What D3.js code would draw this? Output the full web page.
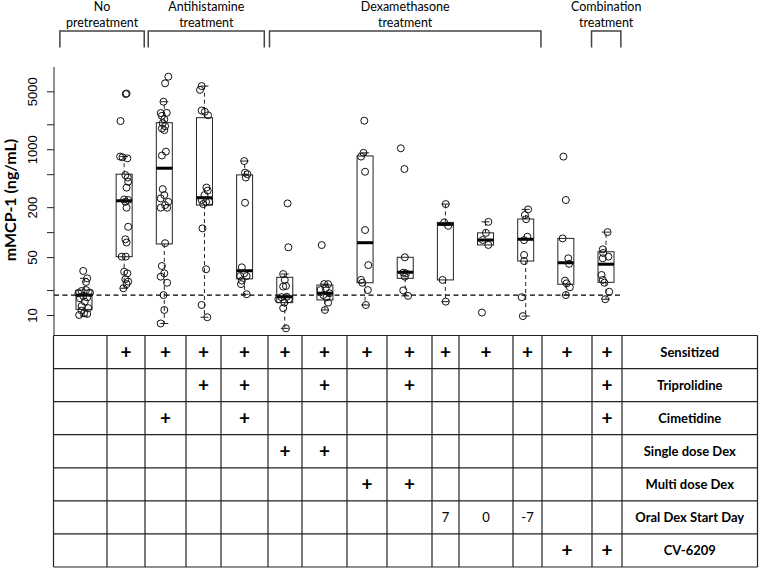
<!DOCTYPE html>
<html>
<head>
<meta charset="utf-8">
<script src="https://cdn.jsdelivr.net/npm/d3@7"></script>
<style>
  body { margin: 0; background: #fff; }
  svg text { fill: #000; }
</style>
</head>
<body>
<svg id="chart" width="759" height="570"></svg>
<script>
// ---- data ----
var groups = d3.range(1, 15);

// box statistics per group (ng/mL)
var whiskerLow  = [9.7, 21, 7.9, 9.4, 17.8, 6.9, 11.5, 13.2, 17, 14.5, 70, 9.7, 17.4, 15.5];
var q1          = [11.7, 50.5, 72, 212, 27.3, 14.1, 15.2, 24.5, 27.7, 26.5, 70, 44.8, 23.5, 24.8];
var median      = [17.4, 239, 590, 260, 34.2, 16.6, 18.3, 74.5, 32.8, 124, 80.3, 82, 42.7, 41];
var q3          = [20, 500, 2090, 2400, 490, 28.5, 23, 830, 49.7, 131, 98, 144, 84, 58];
var whiskerHigh = [27.7, 815, 3740, 5780, 720, 31.2, 23.6, 905, 49.7, 218, 133, 188, 84, 100];

// individual animals, value and horizontal jitter (in group units)
var pointValues = [
  [34, 27.7, 25, 19.5, 20, 18.6, 18.3, 17, 16.3, 15.9, 14.5, 12.8, 12.1, 10, 10.5, 10.3, 11.3],
  [4630, 4700, 2190, 815, 800, 776, 488, 456, 405, 344, 248, 244, 232, 197, 116, 82, 75, 50.6, 50.6, 33.3, 31.8, 27, 25.3, 23.6, 21],
  [7500, 6240, 3740, 2730, 2750, 2530, 2300, 2060, 1900, 1780, 1700, 935, 840, 330, 280, 255, 232, 212, 197, 197, 73.5, 39, 31.8, 29, 24.5, 17.4, 11.5, 7.9],
  [5780, 5200, 2930, 2830, 2570, 345, 317, 280, 244, 232, 232, 218, 111, 35.6, 13.2, 9.4],
  [720, 522, 500, 456, 226, 37.6, 31.8, 29.5, 29.5, 26, 23.6, 17.8],
  [222, 65.6, 31.2, 26.5, 22, 22.4, 16.4, 16.6, 15.5, 15.5, 14.1, 12.1, 6.9],
  [69.8, 23.6, 23.6, 21, 20, 18.3, 17.4, 16.3, 14.1, 11.5],
  [2210, 905, 815, 535, 106, 40, 26.5, 24.5, 20, 13.2],
  [1026, 577, 49.7, 32.4, 31.8, 29, 19.8, 17],
  [218, 131, 119, 26.5, 14.5],
  [133, 98, 80.3, 70, 10.7],
  [188, 161, 143, 88, 80, 53, 44.8, 16.4, 9.7],
  [815, 244, 84, 48.3, 41.4, 26, 24.1, 21.6, 17.4],
  [100, 62, 56, 50.6, 48.3, 30.4, 26.5, 24.5, 19.1, 15.5]
];
var pointJitter = [
  [-0.02, 0.08, 0.05, -0.06, 0.05, 0.15, -0.14, -0.02, 0.08, -0.10, 0.02, -0.06, 0.11, -0.12, 0.0, 0.08, -0.06],
  [0.04, 0.06, -0.09, -0.1, -0.04, 0.08, 0.03, 0.09, 0.1, 0.06, 0, 0.1, 0.03, 0.06, 0.1, 0.03, 0.06, -0.06, 0.04, 0, 0.08, 0.03, 0.1, 0.06, -0.02],
  [0.1, 0.02, -0.02, -0.09, 0.06, -0.06, 0, -0.04, 0.02, -0.06, 0, 0.04, -0.06, -0.04, 0, -0.09, 0.1, 0.02, -0.09, 0.07, 0.02, -0.06, 0, -0.09, 0.07, -0.02, 0, -0.09],
  [-0.07, -0.11, -0.07, 0.01, 0.09, 0.05, 0.08, 0, -0.07, 0.04, 0.12, -0.03, -0.05, 0.04, -0.07, 0.07],
  [-0.01, 0.01, 0.07, 0.03, 0.01, -0.07, -0.01, -0.11, 0.05, -0.07, -0.09, 0.05],
  [0.07, 0.09, -0.04, 0, -0.04, 0.03, -0.08, 0.05, -0.16, 0.1, -0.01, -0.04, 0.03],
  [-0.08, -0.02, 0.08, 0.02, -0.11, 0.11, -0.04, 0.04, 0.08, 0],
  [-0.02, -0.04, -0.1, 0, 0, 0.08, -0.1, -0.07, 0.07, 0.02],
  [-0.11, -0.02, -0.01, -0.05, 0.02, -0.01, -0.05, 0.07],
  [0.01, -0.03, 0.07, -0.07, 0.01],
  [0.07, 0.01, -0.07, 0.07, -0.09],
  [0.06, -0.02, 0.01, 0.04, -0.04, -0.04, -0.04, -0.1, -0.07],
  [-0.06, 0, -0.08, 0.06, 0.08, -0.02, 0.02, 0.1, 0],
  [0.04, -0.08, -0.07, 0.06, -0.08, -0.11, -0.08, -0.04, 0.08, -0.02]
];

var cutoff = 17.4;

var yTicks = [10, 20, 50, 100, 200, 500, 1000, 2000, 5000];
var yTickLabels = [10, 50, 200, 1000, 5000];

var treatmentLabels = [["No", "pretreatment"], ["Antihistamine", "treatment"], ["Dexamethasone", "treatment"], ["Combination", "treatment"]];
var treatmentFrom = [0.4, 2.6, 5.62, 13.64];
var treatmentTo = [2.5, 5.49, 12.38, 14.37];

var rowLabels = ["Sensitized", "Triprolidine", "Cimetidine", "Single dose Dex", "Multi dose Dex", "Oral Dex Start Day", "CV-6209"];
var rowCells = [
  ["", "+", "+", "+", "+", "+", "+", "+", "+", "+", "+", "+", "+", "+"],
  ["", "", "", "+", "+", "", "+", "", "+", "", "", "", "", "+"],
  ["", "", "+", "", "+", "", "", "", "", "", "", "", "", "+"],
  ["", "", "", "", "", "+", "+", "", "", "", "", "", "", ""],
  ["", "", "", "", "", "", "", "+", "+", "", "", "", "", ""],
  ["", "", "", "", "", "", "", "", "", "7", "0", "-7", "", ""],
  ["", "", "", "", "", "", "", "", "", "", "", "", "+", "+"]
];

// ---- layout ----
var svg = d3.select("#chart");
var plotTop = 67, plotBottom = 335, axisX = 54, plotRight = 622;
var colEdges = [53.5, 107, 145, 186, 221, 268, 302, 347, 387, 432, 459, 513, 542, 592, 622, 757.5];
var tableTop = 335.5, tableBottom = 567;

var x = d3.scaleLinear().domain([1, 14]).range([84, 606]);
var y = d3.scaleLog().domain([10, 5000]).range([315, 91.3]);
var boxW = 16;

// treatment brackets
var brackets = svg.append("g").attr("class", "brackets");
treatmentLabels.forEach(function (lab, i) {
  var x0 = x(treatmentFrom[i]), x1 = x(treatmentTo[i]);
  brackets.append("path")
    .attr("d", "M" + x0 + ",47.5V31H" + x1 + "V47.5")
    .attr("fill", "none").attr("stroke", "#444").attr("stroke-width", 1.5);
  brackets.append("text")
    .attr("x", (x0 + x1) / 2).attr("y", 11)
    .attr("text-anchor", "middle")
    .style("font", "12.5px Lato")
    .selectAll("tspan").data(lab).enter().append("tspan")
    .attr("x", (x0 + x1) / 2)
    .attr("dy", function (d, j) { return j ? 16 : 0; })
    .text(function (d) { return d; });
});

// y axis
var yAxis = svg.append("g")
  .attr("transform", "translate(" + axisX + ",0)")
  .call(d3.axisLeft(y).tickValues(yTicks).tickSize(7)
    .tickFormat(function (d) { return yTickLabels.indexOf(d) >= 0 ? d : ""; }));
yAxis.select(".domain").remove();
yAxis.selectAll(".tick line").attr("stroke", "#222");
yAxis.selectAll(".tick text")
  .attr("transform", "rotate(-90)")
  .attr("x", 0).attr("y", -17).attr("dy", 0)
  .attr("text-anchor", "middle")
  .style("font", "13px 'Liberation Sans', Arial, sans-serif");
yAxis.append("line")
  .attr("y1", plotTop).attr("y2", plotBottom)
  .attr("stroke", "#222");

svg.append("text")
  .attr("transform", "translate(16,200) rotate(-90)")
  .attr("text-anchor", "middle")
  .style("font", "bold 16px Lato")
  .text("mMCP-1 (ng/mL)");

// cutoff line
svg.append("line")
  .attr("x1", axisX).attr("x2", plotRight)
  .attr("y1", y(cutoff)).attr("y2", y(cutoff))
  .attr("stroke", "#000").attr("stroke-width", 1.2)
  .attr("stroke-dasharray", "5,3.5");

// boxes
var boxes = svg.append("g").selectAll("g.box")
  .data(groups).enter().append("g").attr("class", "box");

boxes.each(function (g, i) {
  var sel = d3.select(this), cx = x(g);
  [[q3[i], whiskerHigh[i]], [q1[i], whiskerLow[i]]].forEach(function (w) {
    if (w[0] === w[1]) return;
    sel.append("line")
      .attr("x1", cx).attr("x2", cx).attr("y1", y(w[0])).attr("y2", y(w[1]))
      .attr("stroke", "#222").attr("stroke-dasharray", "4,3");
    sel.append("line")
      .attr("x1", cx - boxW / 4).attr("x2", cx + boxW / 4)
      .attr("y1", y(w[1])).attr("y2", y(w[1]))
      .attr("stroke", "#222");
  });
  sel.append("rect")
    .attr("x", cx - boxW / 2).attr("width", boxW)
    .attr("y", y(q3[i])).attr("height", y(q1[i]) - y(q3[i]))
    .attr("fill", "none").attr("stroke", "#222");
  sel.append("line")
    .attr("x1", cx - boxW / 2).attr("x2", cx + boxW / 2)
    .attr("y1", y(median[i])).attr("y2", y(median[i]))
    .attr("stroke", "#000").attr("stroke-width", 3);
});

// points
boxes.selectAll("circle")
  .data(function (g, i) {
    return pointValues[i].map(function (v, j) { return { x: g + pointJitter[i][j], v: v }; });
  })
  .enter().append("circle")
  .attr("cx", function (d) { return x(d.x); })
  .attr("cy", function (d) { return y(d.v); })
  .attr("r", 3.5)
  .attr("fill", "none").attr("stroke", "#111").attr("stroke-width", 1);

// treatment table
var rowBand = d3.scaleBand().domain(d3.range(rowLabels.length)).range([tableTop, tableBottom]);
var table = svg.append("g").attr("class", "table");

table.selectAll("line.h")
  .data(d3.range(rowLabels.length + 1)).enter().append("line")
  .attr("x1", colEdges[0]).attr("x2", colEdges[colEdges.length - 1])
  .attr("y1", function (r) { return rowBand.range()[0] + r * rowBand.step(); })
  .attr("y2", function (r) { return rowBand.range()[0] + r * rowBand.step(); })
  .attr("stroke", "#222").attr("stroke-width", 1.2);

table.selectAll("line.v")
  .data(colEdges).enter().append("line")
  .attr("x1", function (d) { return d; }).attr("x2", function (d) { return d; })
  .attr("y1", tableTop).attr("y2", tableBottom)
  .attr("stroke", "#222").attr("stroke-width", 1.2);

rowCells.forEach(function (cells, r) {
  var cy = rowBand(r) + rowBand.bandwidth() / 2;
  cells.forEach(function (c, k) {
    if (!c) return;
    table.append("text")
      .attr("x", (colEdges[k] + colEdges[k + 1]) / 2)
      .attr("y", cy).attr("dy", "0.35em")
      .attr("text-anchor", "middle")
      .style("font", c === "+" ? "bold 19px Lato" : "13px Lato")
      .text(c);
  });
  table.append("text")
    .attr("x", (colEdges[14] + colEdges[15]) / 2)
    .attr("y", cy).attr("dy", "0.35em")
    .attr("text-anchor", "middle")
    .style("font", "bold 13px Lato")
    .text(rowLabels[r]);
});
</script>
</body>
</html>
